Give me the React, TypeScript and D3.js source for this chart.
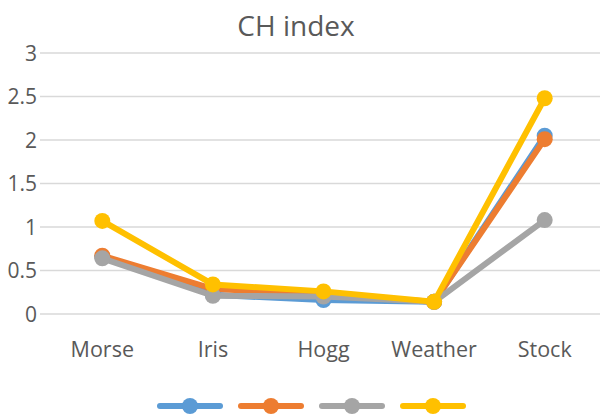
import React, { useEffect, useRef } from 'react'
import * as d3 from 'd3'

// chart data
const categories = ['Morse', 'Iris', 'Hogg', 'Weather', 'Stock']
const seriesColors = ['#5B9BD5', '#ED7D31', '#A5A5A5', '#FFC000']
const blueValues = [0.66, 0.22, 0.16, 0.14, 2.05]
const orangeValues = [0.67, 0.29, 0.22, 0.14, 2.01]
const grayValues = [0.64, 0.21, 0.2, 0.14, 1.08]
const yellowValues = [1.07, 0.34, 0.26, 0.14, 2.48]
const yTicks = [0, 0.5, 1, 1.5, 2, 2.5, 3]

const allSeries = [blueValues, orangeValues, grayValues, yellowValues]

const W = 611
const H = 418
const font = "'Open Sans', 'Liberation Sans', sans-serif"

const App = () => {
    const ref = useRef<SVGSVGElement>(null)

    useEffect(() => {
        const svg = d3.select(ref.current)
        svg.selectAll('*').remove()

        const margin = { top: 53, right: 11, bottom: 104, left: 47 }
        const width = W - margin.left - margin.right
        const height = H - margin.top - margin.bottom

        const x = d3.scaleBand().domain(categories).range([0, width])
        const y = d3.scaleLinear().domain([0, 3]).range([height, 0])

        const g = svg.append('g')
            .attr('transform', `translate(${margin.left},${margin.top})`)

        // grid
        g.selectAll('.grid')
            .data(yTicks)
            .enter()
            .append('line')
            .attr('x1', -7)
            .attr('x2', width)
            .attr('y1', d => y(d))
            .attr('y2', d => y(d))
            .attr('stroke', '#d9d9d9')
            .attr('stroke-width', 1.3)

        // y labels
        g.selectAll('.ylab')
            .data(yTicks)
            .enter()
            .append('text')
            .attr('x', -10)
            .attr('y', d => y(d))
            .attr('dy', '0.36em')
            .attr('text-anchor', 'end')
            .attr('font-family', font)
            .attr('font-size', 21)
            .attr('fill', '#595959')
            .text(d => d3.format('~g')(d))

        // x labels
        g.selectAll('.xlab')
            .data(categories)
            .enter()
            .append('text')
            .attr('x', d => x(d) + x.bandwidth() / 2)
            .attr('y', height + 43)
            .attr('text-anchor', 'middle')
            .attr('font-family', font)
            .attr('font-size', 21.5)
            .attr('fill', '#595959')
            .text(d => d)

        // title
        svg.append('text')
            .attr('x', 296)
            .attr('y', 36)
            .attr('text-anchor', 'middle')
            .attr('font-family', font)
            .attr('font-size', 28)
            .attr('fill', '#595959')
            .text('CH index')

        const line = d3.line<number>()
            .x((d, i) => x(categories[i]) + x.bandwidth() / 2)
            .y(d => y(d))

        allSeries.forEach((vals, si) => {
            g.append('path')
                .datum(vals)
                .attr('d', line)
                .attr('fill', 'none')
                .attr('stroke', seriesColors[si])
                .attr('stroke-width', 6)
                .attr('stroke-linejoin', 'round')
                .attr('stroke-linecap', 'round')
            g.selectAll('.pt' + si)
                .data(vals)
                .enter()
                .append('circle')
                .attr('cx', (d, i) => x(categories[i]) + x.bandwidth() / 2)
                .attr('cy', d => y(d))
                .attr('r', 8)
                .attr('fill', seriesColors[si])
        })

        // legend (no labels)
        const legend = svg.append('g').attr('transform', 'translate(190,406)')
        seriesColors.forEach((c, i) => {
            const lg = legend.append('g').attr('transform', `translate(${i * 81},0)`)
            lg.append('line')
                .attr('x1', -30)
                .attr('x2', 30)
                .attr('stroke', c)
                .attr('stroke-width', 6)
                .attr('stroke-linecap', 'round')
            lg.append('circle').attr('r', 8).attr('fill', c)
        })
    }, [])

    return <svg ref={ref} width={W} height={H} style={{ display: 'block', position: 'absolute', left: 0, top: 0 }} />
}

export default App
